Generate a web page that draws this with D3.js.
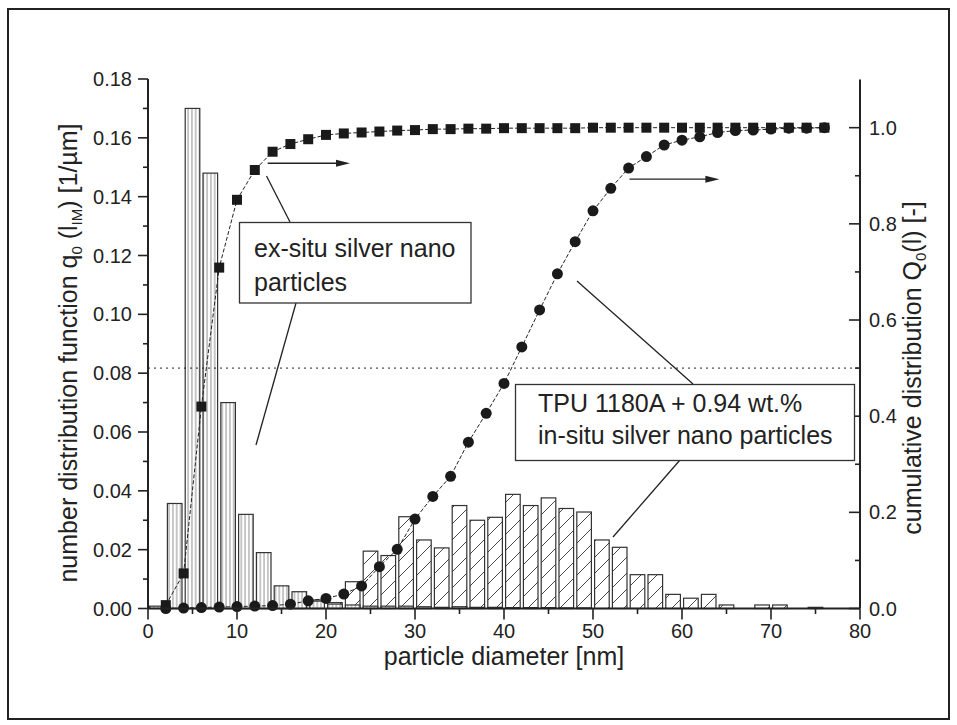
<!DOCTYPE html>
<html>
<head>
<meta charset="utf-8">
<script src="https://cdn.jsdelivr.net/npm/d3@7"></script>
<style>
  html, body { margin: 0; padding: 0; background: #fff; }
  svg { display: block; font-family: "Liberation Sans", Arial, sans-serif; }
</style>
</head>
<body>
<svg id="chart" width="957" height="725"></svg>
<script>
// Bin centres (nm) of the histogram bars
const binCenters = [1,3,5,7,9,11,13,15,17,19,21,23,25,27,29,31,33,35,37,39,41,43,45,47,49,51,53,55,57,59,61,63,65,67,69,71,73,75];

// number distribution q0 [1/µm] – ex-situ particles
const exSituQ = [0.0008,0.0357,0.170,0.148,0.070,0.032,0.019,0.0077,0.0057,0.0025,0.0015,0.0012,0.0008,0.0008,0.0008,0.0006,0.0004,0.0006,0.0004,0.0004,0.0003,0.0003,0.0003,0.0002,0.0002,0,0,0,0,0,0,0,0,0,0,0,0,0];

// number distribution q0 [1/µm] – in-situ particles (TPU 1180A + 0.94 wt.%)
const inSituQ = [0,0.0005,0.0005,0.0005,0.0005,0.0005,0.0005,0.0008,0.003,0.0029,0.002,0.0091,0.0195,0.0180,0.0312,0.0233,0.0206,0.0350,0.0300,0.0310,0.0388,0.0350,0.0376,0.0340,0.0328,0.0233,0.0208,0.0115,0.0115,0.0048,0.0035,0.0048,0.0012,0,0.0012,0.0012,0,0.0004];

// Upper bin edges (nm) for the cumulative curves
const binEdges = [2,4,6,8,10,12,14,16,18,20,22,24,26,28,30,32,34,36,38,40,42,44,46,48,50,52,54,56,58,60,62,64,66,68,70,72,74,76];

// cumulative distribution Q0 [-] – ex-situ
const exSituCum = [0.007,0.073,0.42,0.709,0.850,0.912,0.950,0.966,0.976,0.985,0.988,0.990,0.992,0.994,0.995,0.997,0.997,0.998,0.998,0.999,0.999,0.999,0.999,0.999,1.0,1.0,1.0,1.0,1.0,1.0,1.0,1.0,1.0,1.0,1.0,1.0,1.0,1.0];

// cumulative distribution Q0 [-] – in-situ
const inSituCum = [0.0,0.001,0.002,0.003,0.004,0.005,0.006,0.009,0.016,0.021,0.030,0.047,0.087,0.123,0.186,0.233,0.275,0.346,0.406,0.468,0.544,0.621,0.696,0.763,0.827,0.874,0.916,0.940,0.964,0.974,0.981,0.990,0.994,0.995,0.997,0.999,0.999,1.0];

// Axis ticks
const xTicks = [0,10,20,30,40,50,60,70,80];
const yLeftTicks = [0,0.02,0.04,0.06,0.08,0.10,0.12,0.14,0.16,0.18];
const yRightTicks = [0,0.2,0.4,0.6,0.8,1.0];

const svg = d3.select("#chart");
const ink = "#222";

// outer frame
svg.append("rect").attr("x", 8).attr("y", 9).attr("width", 941).attr("height", 710)
  .attr("fill", "none").attr("stroke", ink).attr("stroke-width", 2);

const x = d3.scaleLinear().domain([0, 80]).range([148, 860]);
const yL = d3.scaleLinear().domain([0, 0.18]).range([608.5, 79]);
const yR = d3.scaleLinear().domain([0, 1.1]).range([608.5, 79.6]);

// hatch patterns
const defs = svg.append("defs");
const pv = defs.append("pattern").attr("id", "hatchV").attr("patternUnits", "userSpaceOnUse")
  .attr("width", 3.8).attr("height", 10);
pv.append("rect").attr("width", 3.8).attr("height", 10).attr("fill", "#fff");
pv.append("line").attr("x1", 1.9).attr("x2", 1.9).attr("y1", 0).attr("y2", 10)
  .attr("stroke", "#666").attr("stroke-width", 0.75);

const pd = defs.append("pattern").attr("id", "hatchD").attr("patternUnits", "userSpaceOnUse")
  .attr("width", 16).attr("height", 16);
pd.append("rect").attr("width", 16).attr("height", 16).attr("fill", "#fff");
pd.append("path").attr("d", "M0,16 L16,0 M-4,4 L4,-4 M12,20 L20,12")
  .attr("stroke", "#333").attr("stroke-width", 0.9);

const barHalf = 0.82;

function drawBars(values, fill) {
  const data = binCenters.map((c, i) => ({ c, v: values[i] })).filter(d => d.v > 0);
  svg.append("g").selectAll("rect").data(data).join("rect")
    .attr("x", d => x(d.c - barHalf))
    .attr("width", d => x(d.c + barHalf) - x(d.c - barHalf))
    .attr("y", d => yL(d.v))
    .attr("height", d => yL(0) - yL(d.v))
    .attr("fill", fill)
    .attr("stroke", "#333").attr("stroke-width", 1.2);
}
drawBars(inSituQ, "url(#hatchD)");
drawBars(exSituQ, "url(#hatchV)");

// 50 % reference line
svg.append("line").attr("x1", x(0)).attr("x2", x(80)).attr("y1", yR(0.5)).attr("y2", yR(0.5))
  .attr("stroke", ink).attr("stroke-width", 1).attr("stroke-dasharray", "2,4");

// cumulative curves
const line = d3.line().x(d => x(d[0])).y(d => yR(d[1]));
const sqData = binEdges.map((e, i) => [e, exSituCum[i]]);
const ciData = binEdges.map((e, i) => [e, inSituCum[i]]);

svg.append("path").datum(sqData).attr("d", line).attr("fill", "none")
  .attr("stroke", ink).attr("stroke-width", 1).attr("stroke-dasharray", "4,2");
svg.append("path").datum(ciData).attr("d", line).attr("fill", "none")
  .attr("stroke", ink).attr("stroke-width", 1).attr("stroke-dasharray", "4,2");

svg.append("g").selectAll("rect").data(sqData).join("rect")
  .attr("x", d => x(d[0]) - 5).attr("y", d => yR(d[1]) - 5)
  .attr("width", 10).attr("height", 10).attr("fill", "#1a1a1a");
svg.append("g").selectAll("circle").data(ciData).join("circle")
  .attr("cx", d => x(d[0])).attr("cy", d => yR(d[1])).attr("r", 5.5).attr("fill", "#1a1a1a");

// axes
const axisG = svg.append("g").attr("stroke", ink);
// left
axisG.append("line").attr("x1", 148).attr("x2", 148).attr("y1", yL(0.18)).attr("y2", yL(0))
  .attr("stroke-width", 2);
d3.range(0, 19).forEach(k => {
  const v = k * 0.01, major = k % 2 === 0;
  axisG.append("line").attr("x1", 148).attr("x2", 148 - (major ? 10 : 5))
    .attr("y1", yL(v)).attr("y2", yL(v)).attr("stroke-width", 1.6);
});
// right
axisG.append("line").attr("x1", 860).attr("x2", 860).attr("y1", yR(1.1)).attr("y2", yR(0))
  .attr("stroke-width", 2);
d3.range(0, 11).forEach(k => {
  const v = k * 0.1, major = k % 2 === 0;
  axisG.append("line").attr("x1", 860).attr("x2", 860 - (major ? 11 : 5))
    .attr("y1", yR(v)).attr("y2", yR(v)).attr("stroke-width", 1.6);
});
// bottom
axisG.append("line").attr("x1", x(0)).attr("x2", x(80)).attr("y1", yL(0)).attr("y2", yL(0))
  .attr("stroke-width", 2);
d3.range(0, 17).forEach(k => {
  const v = k * 5, major = k % 2 === 0;
  axisG.append("line").attr("x1", x(v)).attr("x2", x(v))
    .attr("y1", yL(0)).attr("y2", yL(0) + (major ? 11 : 5.5)).attr("stroke-width", 1.6);
});

// tick labels
const tl = svg.append("g").attr("fill", ink).attr("font-size", 20);
tl.selectAll(".xl").data(xTicks).join("text")
  .attr("x", d => x(d)).attr("y", 637.5).attr("text-anchor", "middle").text(d => d);
tl.selectAll(".yl").data(yLeftTicks).join("text")
  .attr("x", 132).attr("y", d => yL(d) + 7).attr("text-anchor", "end").text(d => d.toFixed(2));
tl.selectAll(".yr").data(yRightTicks).join("text")
  .attr("x", 869).attr("y", d => yR(d) + 7).attr("text-anchor", "start").text(d => d.toFixed(1));

// axis titles
const tt = svg.append("g").attr("fill", ink).attr("font-size", 25);
tt.append("text").attr("x", 504).attr("y", 665).attr("text-anchor", "middle").text("particle diameter [nm]");

const lt = tt.append("text").attr("text-anchor", "middle")
  .attr("transform", "translate(77,353) rotate(-90)");
lt.append("tspan").text("number distribution function q");
lt.append("tspan").attr("font-size", 15).attr("dy", 5).text("0");
lt.append("tspan").attr("dy", -5).text(" (l");
lt.append("tspan").attr("font-size", 15).attr("dy", 5).text("IM");
lt.append("tspan").attr("dy", -5).text(") [1/µm]");

const rt = tt.append("text").attr("text-anchor", "middle")
  .attr("transform", "translate(921,368) rotate(-90)");
rt.append("tspan").text("cumulative distribution Q");
rt.append("tspan").attr("font-size", 15).attr("dy", 5).text("0");
rt.append("tspan").attr("dy", -5).text("(l) [-]");

// annotation leaders
const ann = svg.append("g").attr("stroke", ink).attr("stroke-width", 1.3);
[[290,222,266.5,176],[296,303,256,445],[577,281,693,384],[680,460,613,537]].forEach(s => {
  ann.append("line").attr("x1", s[0]).attr("y1", s[1]).attr("x2", s[2]).attr("y2", s[3]);
});

// arrows pointing to the right-hand axis
function arrow(x0, x1, q) {
  const yy = yR(q);
  const xe = x(x1), xs = x(x0);
  svg.append("line").attr("x1", xs).attr("x2", xe - 12).attr("y1", yy).attr("y2", yy)
    .attr("stroke", ink).attr("stroke-width", 1.4);
  svg.append("path").attr("d", `M${xe},${yy} L${xe - 14},${yy - 3.5} L${xe - 14},${yy + 3.5} Z`)
    .attr("fill", ink);
}
arrow(13.45, 22.7, 0.926);
arrow(54.1, 64.2, 0.893);

// annotation boxes
function box(bx, by, bw, bh, lines, tx, ty, lh) {
  svg.append("rect").attr("x", bx).attr("y", by).attr("width", bw).attr("height", bh)
    .attr("fill", "#fff").attr("stroke", "#333").attr("stroke-width", 1.3);
  const t = svg.append("text").attr("fill", ink).attr("font-size", 25);
  lines.forEach((s, i) => t.append("tspan").attr("x", tx).attr("y", ty + i * lh).text(s));
}
box(239.5, 222.5, 231.5, 80.5, ["ex-situ silver nano", "particles"], 254, 257, 34);
box(515.5, 384.5, 339, 76, ["TPU 1180A + 0.94 wt.%", "in-situ silver nano particles"], 538, 412, 32);
</script>
</body>
</html>
